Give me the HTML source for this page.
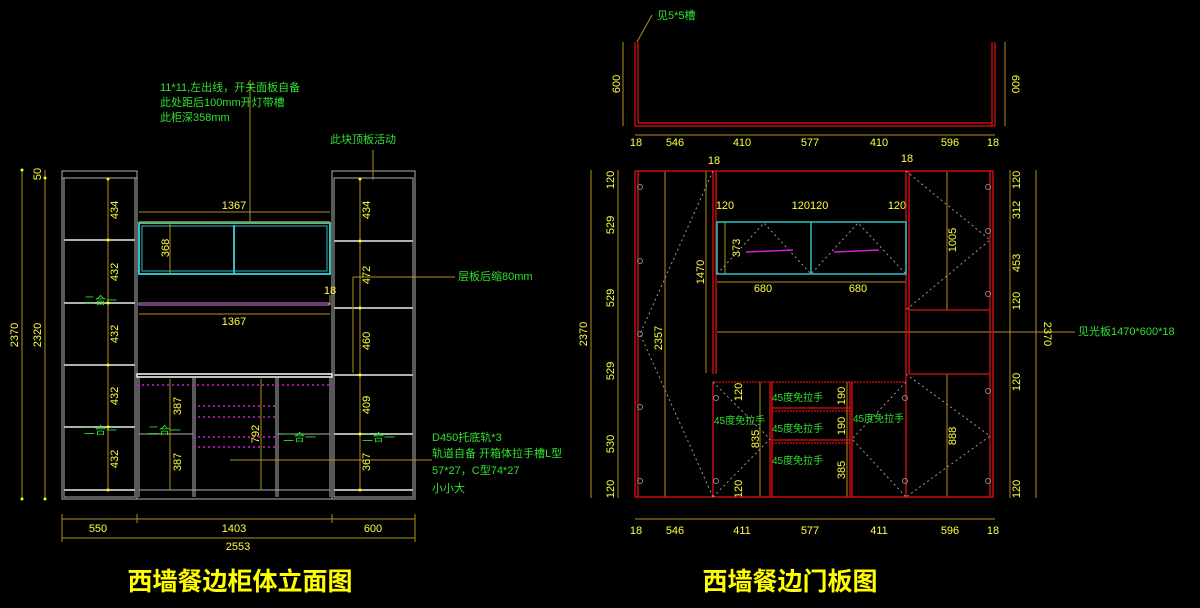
<!DOCTYPE html>
<html><head><meta charset="utf-8"><style>
html,body{margin:0;padding:0;background:#000;width:1200px;height:608px;overflow:hidden}
svg{display:block}
text{font-family:"Liberation Sans","Noto Sans CJK SC",sans-serif}
.d{fill:#ffff40;font-size:11px}
.g{fill:#30e030;font-size:11px}
</style></head><body>
<svg width="1200" height="608" viewBox="0 0 1200 608">
<!-- ===== LEFT DRAWING ===== -->
<g stroke="#b0b0b0" stroke-width="1" fill="none">
<rect x="62" y="171" width="75" height="328"/>
<rect x="64" y="178" width="71" height="319"/>
<line x1="62" y1="178" x2="137" y2="178"/>
<rect x="332" y="171" width="83" height="328"/>
<rect x="334" y="178" width="79" height="319"/>
<line x1="137" y1="210" x2="137" y2="499"/>
<line x1="137" y1="499" x2="332" y2="499"/>
<line x1="139" y1="378" x2="139" y2="497"/>
<line x1="330" y1="378" x2="330" y2="497"/>
<line x1="193" y1="378" x2="193" y2="497"/><line x1="195" y1="378" x2="195" y2="497"/>
<line x1="276" y1="378" x2="276" y2="497"/><line x1="278" y1="378" x2="278" y2="497"/>
<line x1="139" y1="490" x2="330" y2="490"/>
<line x1="139" y1="434" x2="193" y2="434"/><line x1="278" y1="434" x2="330" y2="434"/>
</g>
<g stroke="#b0b0b0" stroke-width="2">
<line x1="64" y1="240" x2="135" y2="240"/><line x1="64" y1="303" x2="135" y2="303"/><line x1="64" y1="365" x2="135" y2="365"/><line x1="64" y1="427" x2="135" y2="427"/><line x1="64" y1="490" x2="135" y2="490"/>
<line x1="334" y1="241" x2="413" y2="241"/><line x1="334" y1="308" x2="413" y2="308"/><line x1="334" y1="375" x2="413" y2="375"/><line x1="334" y1="434" x2="413" y2="434"/><line x1="334" y1="490" x2="413" y2="490"/>
</g>
<rect x="137" y="374" width="195" height="3" fill="none" stroke="#fff" stroke-width="1.5"/>
<rect x="139" y="223" width="191" height="51" fill="none" stroke="#30c0c0" stroke-width="2"/>
<rect x="142" y="226" width="185" height="45" fill="none" stroke="#30c0c0" stroke-width="1"/>
<line x1="234" y1="225" x2="234" y2="273" stroke="#30c0c0" stroke-width="2"/>
<line x1="139" y1="222" x2="330" y2="222" stroke="#a0a030" stroke-width="1.5"/>
<rect x="139" y="303" width="190" height="2" fill="none" stroke="#d080d0"/>
<g stroke="#d020d0" stroke-width="1.5" stroke-dasharray="2,3">
<line x1="137" y1="385" x2="332" y2="385"/><line x1="193" y1="406" x2="276" y2="406"/><line x1="193" y1="417" x2="276" y2="417"/><line x1="193" y1="437" x2="276" y2="437"/><line x1="193" y1="447" x2="276" y2="447"/>
</g>
<!-- dims left -->
<g stroke="#b09020" stroke-width="1">
<line x1="22" y1="170" x2="22" y2="499"/><line x1="45" y1="170" x2="45" y2="499"/>
<line x1="108" y1="179" x2="108" y2="490"/><line x1="360" y1="179" x2="360" y2="490"/>
<line x1="170" y1="223" x2="170" y2="273"/>
<line x1="170" y1="379" x2="170" y2="490"/><line x1="261" y1="379" x2="261" y2="490"/>
<line x1="139" y1="212" x2="330" y2="212"/><line x1="139" y1="314" x2="330" y2="314"/>
<line x1="62" y1="519" x2="415" y2="519"/><line x1="62" y1="538" x2="415" y2="538"/>
<line x1="62" y1="514" x2="62" y2="542"/><line x1="137" y1="514" x2="137" y2="523"/><line x1="332" y1="514" x2="332" y2="523"/><line x1="415" y1="514" x2="415" y2="542"/>
<line x1="250" y1="80" x2="250" y2="222"/><line x1="373" y1="150" x2="373" y2="180"/>
<line x1="353" y1="277" x2="455" y2="277"/><line x1="353" y1="277" x2="353" y2="373"/>
<line x1="230" y1="460" x2="432" y2="460"/>
<line x1="330" y1="295" x2="330" y2="305"/>
</g>
<g fill="#ff0">
<circle cx="108" cy="179" r="1.5"/><circle cx="108" cy="240" r="1.5"/><circle cx="108" cy="303" r="1.5"/><circle cx="108" cy="365" r="1.5"/><circle cx="108" cy="427" r="1.5"/><circle cx="108" cy="490" r="1.5"/>
<circle cx="360" cy="179" r="1.5"/><circle cx="360" cy="241" r="1.5"/><circle cx="360" cy="308" r="1.5"/><circle cx="360" cy="375" r="1.5"/><circle cx="360" cy="434" r="1.5"/><circle cx="360" cy="490" r="1.5"/>
<circle cx="22" cy="170" r="1.5"/><circle cx="22" cy="499" r="1.5"/><circle cx="45" cy="178" r="1.5"/><circle cx="45" cy="499" r="1.5"/>
</g>
<g class="d">
<text transform="translate(18,335) rotate(-90)" text-anchor="middle">2370</text>
<text transform="translate(41,335) rotate(-90)" text-anchor="middle">2320</text>
<text transform="translate(41,174) rotate(-90)" text-anchor="middle">50</text>
<g text-anchor="middle">
<text transform="translate(118,210) rotate(-90)">434</text><text transform="translate(118,272) rotate(-90)">432</text><text transform="translate(118,334) rotate(-90)">432</text><text transform="translate(118,396) rotate(-90)">432</text><text transform="translate(118,459) rotate(-90)">432</text>
<text transform="translate(370,210) rotate(-90)">434</text><text transform="translate(370,275) rotate(-90)">472</text><text transform="translate(370,341) rotate(-90)">460</text><text transform="translate(370,405) rotate(-90)">409</text><text transform="translate(370,462) rotate(-90)">367</text>
<text transform="translate(169,248) rotate(-90)">368</text>
<text transform="translate(181,406) rotate(-90)">387</text><text transform="translate(181,462) rotate(-90)">387</text>
<text transform="translate(259,434) rotate(-90)">792</text>
<text x="234" y="209">1367</text><text x="234" y="325">1367</text>
<text x="98" y="532">550</text><text x="234" y="532">1403</text><text x="373" y="532">600</text>
<text x="238" y="550">2553</text>
<text x="330" y="294">18</text>
</g>
</g>
<g class="g">
<text x="160" y="91">11*11,左出线，开关面板自备</text>
<text x="160" y="106">此处距后100mm开灯带槽</text>
<text x="160" y="121">此柜深358mm</text>
<text x="330" y="143">此块顶板活动</text>
<text x="458" y="280">层板后缩80mm</text>
<text x="432" y="441">D450托底轨*3</text>
<text x="432" y="457">轨道自备 开箱体拉手槽L型</text>
<text x="432" y="474">57*27，C型74*27</text>
<text x="432" y="492">小小大</text>
<text x="84" y="304">二合一</text><text x="84" y="434">二合一</text><text x="148" y="434">二合一</text><text x="283" y="441">二合一</text><text x="362" y="441">二合一</text>
</g>
<!-- ===== RIGHT TOP PLAN ===== -->
<g stroke="#e01010" stroke-width="1.2" fill="none">
<line x1="635" y1="42" x2="635" y2="126"/><line x1="638" y1="42" x2="638" y2="123"/>
<line x1="992" y1="42" x2="992" y2="126"/><line x1="995" y1="42" x2="995" y2="126"/>
<line x1="638" y1="123" x2="992" y2="123"/><line x1="635" y1="126" x2="995" y2="126"/>
</g>
<g stroke="#b09020" stroke-width="1">
<line x1="623" y1="42" x2="623" y2="126"/><line x1="1005" y1="42" x2="1005" y2="126"/>
<line x1="635" y1="135" x2="995" y2="135"/>
<line x1="652" y1="15" x2="637" y2="42"/>
<line x1="1036" y1="170" x2="1036" y2="498"/><line x1="591" y1="170" x2="591" y2="498"/>
<line x1="618" y1="170" x2="618" y2="498"/><line x1="1010" y1="170" x2="1010" y2="498"/>
<line x1="665" y1="171" x2="665" y2="497"/><line x1="706" y1="171" x2="706" y2="373"/>
<line x1="947" y1="171" x2="947" y2="310"/><line x1="947" y1="374" x2="947" y2="497"/>
<line x1="760" y1="382" x2="760" y2="497"/><line x1="847" y1="382" x2="847" y2="497"/>
<line x1="717" y1="332" x2="1075" y2="332"/>
<line x1="717" y1="282" x2="906" y2="282"/>
<line x1="725" y1="222" x2="725" y2="274"/>
<line x1="635" y1="519" x2="995" y2="519"/>
</g>
<g class="d" text-anchor="middle">
<text transform="translate(620,84) rotate(-90)">600</text><text transform="translate(1012,84) rotate(90)">600</text>
<text x="636" y="146">18</text><text x="675" y="146">546</text><text x="742" y="146">410</text><text x="810" y="146">577</text><text x="879" y="146">410</text><text x="950" y="146">596</text><text x="993" y="146">18</text>
<text x="714" y="164">18</text><text x="907" y="162">18</text>
<text x="636" y="534">18</text><text x="675" y="534">546</text><text x="742" y="534">411</text><text x="810" y="534">577</text><text x="879" y="534">411</text><text x="950" y="534">596</text><text x="993" y="534">18</text>
<text transform="translate(587,334) rotate(-90)">2370</text>
<text transform="translate(1044,334) rotate(90)">2370</text>
<text transform="translate(614,180) rotate(-90)">120</text><text transform="translate(614,225) rotate(-90)">529</text><text transform="translate(614,298) rotate(-90)">529</text><text transform="translate(614,371) rotate(-90)">529</text><text transform="translate(614,444) rotate(-90)">530</text><text transform="translate(614,489) rotate(-90)">120</text>
<text transform="translate(1020,180) rotate(-90)">120</text><text transform="translate(1020,210) rotate(-90)">312</text><text transform="translate(1020,263) rotate(-90)">453</text><text transform="translate(1020,301) rotate(-90)">120</text><text transform="translate(1020,382) rotate(-90)">120</text><text transform="translate(1020,489) rotate(-90)">120</text>
<text transform="translate(662,338) rotate(-90)">2357</text>
<text transform="translate(704,272) rotate(-90)">1470</text>
<text transform="translate(740,248) rotate(-90)">373</text>
<text transform="translate(956,240) rotate(-90)">1005</text>
<text transform="translate(956,436) rotate(-90)">888</text>
<text transform="translate(742,392) rotate(-90)">120</text><text transform="translate(742,489) rotate(-90)">120</text>
<text transform="translate(759,439) rotate(-90)">835</text>
<text transform="translate(845,396) rotate(-90)">190</text><text transform="translate(845,426) rotate(-90)">190</text><text transform="translate(845,470) rotate(-90)">385</text>
<text x="725" y="209">120</text><text x="810" y="209">120120</text><text x="897" y="209">120</text>
<text x="763" y="292">680</text><text x="858" y="292">680</text>
</g>
<!-- right elevation -->
<g stroke="#e01010" stroke-width="1.3" fill="none">
<rect x="635" y="171" width="358" height="326"/>
<line x1="638" y1="171" x2="638" y2="497"/>
<line x1="713" y1="171" x2="713" y2="374"/><line x1="716" y1="171" x2="716" y2="374"/>
<line x1="906" y1="171" x2="906" y2="374"/><line x1="909" y1="171" x2="909" y2="374"/>
<line x1="990" y1="171" x2="990" y2="497"/>
<line x1="909" y1="310" x2="990" y2="310"/><line x1="909" y1="374" x2="990" y2="374"/>
<line x1="713" y1="382" x2="713" y2="497"/>
<line x1="770" y1="382" x2="770" y2="497"/><line x1="772" y1="382" x2="772" y2="497"/>
<line x1="850" y1="382" x2="850" y2="497"/><line x1="852" y1="382" x2="852" y2="497"/>
<line x1="906" y1="374" x2="906" y2="497"/>
<line x1="772" y1="408" x2="850" y2="408"/><line x1="772" y1="440" x2="850" y2="440"/>
</g>
<g stroke="#e01010" stroke-width="1.3" stroke-dasharray="2,1">
<line x1="713" y1="382" x2="906" y2="382"/><line x1="772" y1="411" x2="850" y2="411"/><line x1="772" y1="443" x2="850" y2="443"/>
</g>
<rect x="717" y="222" width="189" height="52" fill="none" stroke="#30c0c0" stroke-width="1.5"/>
<line x1="811" y1="222" x2="811" y2="274" stroke="#30c0c0" stroke-width="1.5"/>
<g stroke="#999" stroke-width="1" stroke-dasharray="2,3" fill="none">
<polyline points="713,171 640,334 713,497"/>
<polyline points="906,171 990,240 906,310"/>
<polyline points="906,374 990,436 906,497"/>
<polyline points="717,274 764,223 811,274 858,223 906,274"/>
<polyline points="713,382 770,439 713,497"/>
<polyline points="906,382 852,439 906,497"/>
</g>
<g stroke="#d020d0" stroke-width="1.5" fill="none">
<line x1="746" y1="252" x2="793" y2="250"/><line x1="834" y1="252" x2="879" y2="250"/>
</g>
<g fill="none" stroke="#888">
<circle cx="640" cy="187" r="2.5"/><circle cx="640" cy="261" r="2.5"/><circle cx="640" cy="334" r="2.5"/><circle cx="640" cy="407" r="2.5"/><circle cx="640" cy="481" r="2.5"/>
<circle cx="988" cy="187" r="2.5"/><circle cx="988" cy="231" r="2.5"/><circle cx="988" cy="294" r="2.5"/><circle cx="988" cy="391" r="2.5"/><circle cx="988" cy="481" r="2.5"/>
<circle cx="716" cy="398" r="2.5"/><circle cx="716" cy="481" r="2.5"/><circle cx="905" cy="398" r="2.5"/><circle cx="905" cy="481" r="2.5"/>
</g>
<g class="g" font-size="10">
<text x="657" y="19" style="font-size:11px">见5*5槽</text>
<text x="1078" y="335" style="font-size:11px">见光板1470*600*18</text>
<text x="772" y="401" style="font-size:10px">45度免拉手</text>
<text x="772" y="432" style="font-size:10px">45度免拉手</text>
<text x="772" y="464" style="font-size:10px">45度免拉手</text>
<text x="714" y="424" style="font-size:10px">45度免拉手</text>
<text x="853" y="422" style="font-size:10px">45度免拉手</text>
</g>
<!-- titles -->
<g fill="#ffff00" font-weight="bold" font-size="25" text-anchor="middle">
<text x="240" y="590" style="font-family:'Noto Sans CJK SC',sans-serif">西墙餐边柜体立面图</text>
<text x="790" y="590" style="font-family:'Noto Sans CJK SC',sans-serif">西墙餐边门板图</text>
</g>
</svg>
</body></html>
